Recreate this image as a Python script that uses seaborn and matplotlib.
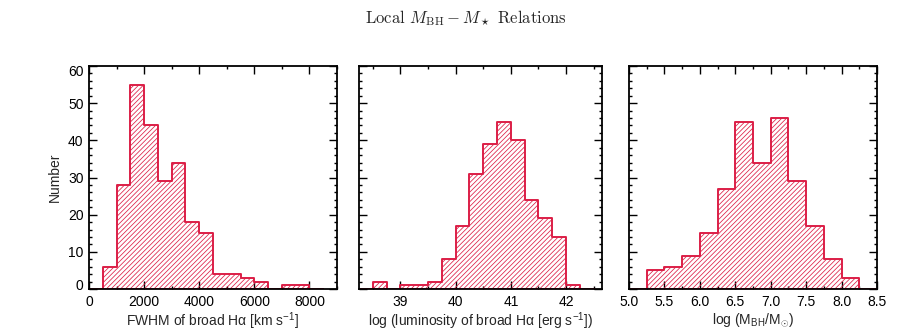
import numpy as np
import pandas as pd
import matplotlib
matplotlib.use("Agg")
import matplotlib.pyplot as plt
import matplotlib.transforms as mtransforms
from matplotlib.ticker import MultipleLocator, FixedLocator
import seaborn as sns

# ---------------- data ----------------
fwhm_edges = [0, 500, 1000, 1500, 2000, 2500, 3000, 3500, 4000, 4500,
              5000, 5500, 6000, 6500, 7000, 7500, 8000, 8500]
fwhm_counts = [0, 6, 28, 55, 44, 29, 34, 18, 15, 4, 4, 3, 2, 0, 1, 1, 0]

lum_edges = [38.25, 38.5, 38.75, 39.0, 39.25, 39.5, 39.75, 40.0, 40.25, 40.5,
             40.75, 41.0, 41.25, 41.5, 41.75, 42.0, 42.25, 42.5]
lum_counts = [0, 2, 0, 1, 1, 2, 8, 17, 31, 39, 45, 40, 24, 19, 14, 1, 0]

mbh_edges = [5.0, 5.25, 5.5, 5.75, 6.0, 6.25, 6.5, 6.75, 7.0, 7.25, 7.5,
             7.75, 8.0, 8.25, 8.5]
mbh_counts = [0, 5, 6, 9, 15, 27, 45, 34, 46, 29, 17, 8, 3, 0]

y_ticks = [0, 10, 20, 30, 40, 50, 60]

title_text = r"Local $M_{\rm BH} - M_\star$ Relations"
xlabels = ["FWHM of broad Hα [km s$^{-1}$]",
           "log (luminosity of broad Hα [erg s$^{-1}$])",
           r"log (M$_{\rm BH}$/M$_{\odot}$)"]
ylabel_text = "Number"

# ---------------- style ----------------
sns.set_style("ticks")
plt.rcParams["font.family"] = ["Liberation Sans", "DejaVu Sans"]
plt.rcParams["mathtext.fontset"] = "custom"
plt.rcParams["mathtext.rm"] = "Liberation Sans"
plt.rcParams["mathtext.it"] = "Liberation Sans:italic"
plt.rcParams["mathtext.bf"] = "Liberation Sans:bold"
plt.rcParams["hatch.linewidth"] = 0.55
plt.rcParams["axes.linewidth"] = 1.3

RED = "#DC1E46"

fig = plt.figure(figsize=(9.04, 3.35), dpi=100)
W, H = 904.0, 335.0
top_px, bot_px = 66, 289
boxes = [(89, 337), (359, 602), (629, 877)]
axes = []
for (l, r) in boxes:
    ax = fig.add_axes([l / W, 1 - bot_px / H, (r - l) / W, (bot_px - top_px) / H])
    axes.append(ax)

datasets = [
    (fwhm_edges, fwhm_counts, (0, 9000), 2000, 1000),
    (lum_edges, lum_counts, (38.25, 42.65), 1, 0.5),
    (mbh_edges, mbh_counts, (5.0, 8.5), 0.5, 0.25),
]

for i, (ax, (edges, counts, xlim, maj, mnr)) in enumerate(zip(axes, datasets)):
    e = np.asarray(edges, dtype=float)
    centers = (e[:-1] + e[1:]) / 2
    df = pd.DataFrame({"x": centers, "n": counts})
    sns.histplot(data=df, x="x", weights="n", bins=list(edges), element="step",
                 fill=True, color=RED, facecolor="none", edgecolor=RED,
                 alpha=1, hatch="///////", linewidth=1.4, ax=ax)
    ax.set_xlim(*xlim)
    ax.set_ylim(0, 60)
    ax.xaxis.set_major_locator(MultipleLocator(maj))
    ax.xaxis.set_minor_locator(MultipleLocator(mnr))
    ax.yaxis.set_major_locator(FixedLocator(y_ticks))
    ax.yaxis.set_minor_locator(MultipleLocator(2))
    ax.tick_params(which="both", direction="in", top=True, right=True,
                   width=1.0, colors="black", labelsize=10)
    ax.tick_params(which="major", length=5.5, pad=4)
    ax.tick_params(which="minor", length=2.5)
    ax.set_xlabel(xlabels[i], fontsize=10, labelpad=1.5)
    if i == 0:
        ax.set_ylabel(ylabel_text, fontsize=10, labelpad=4)
    else:
        ax.set_ylabel("")
        ax.tick_params(labelleft=False)
    for s in ax.spines.values():
        s.set_visible(True)
        s.set_color("black")

# IDL-like: keep the end y labels inside the axis range
ax0 = axes[0]
ticks = ax0.yaxis.get_major_ticks()
off_up = mtransforms.ScaledTranslation(0, 4 / 100, fig.dpi_scale_trans)
off_dn = mtransforms.ScaledTranslation(0, -4 / 100, fig.dpi_scale_trans)
ticks[0].label1.set_transform(ticks[0].label1.get_transform() + off_up)
ticks[-1].label1.set_transform(ticks[-1].label1.get_transform() + off_dn)

fig.text(0.516, 0.946, title_text, ha="center", va="center", fontsize=12,
         family=["cmr10", "DejaVu Serif"], math_fontfamily="cm")

fig.savefig("out.png", dpi=100)
